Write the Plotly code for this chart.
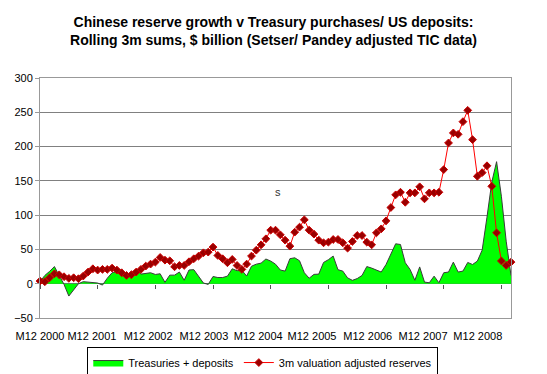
import plotly.graph_objects as go

# ---- data (rolling 3m sums, $ billion), monthly from M12 2000 ----
treasuries_deposits = [
    3, 12, 18, 25, 12, -1, -18, -9, 0, 3, 2, 1.5, 1, -2, 8, 16, 18, 16, 14, 16,
    21, 14, 14.5, 16, 13.5, 14.5, 2, 12.5, 12.5, 17, 5, 20, 20.5, 11, 1, -1, 10.5, 9, 9, 11,
    21.8, 19, 19.5, 11.2, 25.5, 28.5, 30, 36, 33, 28.5, 20, 18.4, 36.5, 37.8, 33.5, 16, 8, 13.6, 14, 31,
    35, 40.3, 20.4, 18.4, 8.5, 4.9, 7.5, 12, 25, 22.8, 19.6, 17, 28, 43.7, 58.2, 57.2, 30.6, 20.8, 5, 24.5,
    2.4, 1.4, 11, 1.4, 16, 17, 31.5, 17, 18.4, 31, 28, 33, 49, 97, 148, 178, 127.6, 62, 12,
]
valuation_adjusted_reserves = [
    3.9, 2.9, 8.7, 14.5, 13, 10.2, 7.8, 8.7, 7.3, 11.2, 17, 21.8, 19.9, 20.9, 20.9, 22.8, 19.9, 16, 12.1, 13.1,
    17, 20.9, 25.7, 28.6, 31.5, 38.3, 34.4, 33.4, 24.7, 26.6, 26.6, 32, 36.4, 40.3, 45.1, 46.1, 53.4, 41.2, 36.4, 30.6,
    35.4, 26.6, 20.9, 28.6, 40.3, 48.9, 56.7, 65.5, 78.1, 78.1, 71.3, 63.5, 54.8, 75.2, 82.5, 93.2, 78.1, 72.3, 63.5, 59.7,
    60.6, 64.5, 64.5, 59.7, 51.9, 61.6, 70.3, 70.3, 60.6, 56.7, 74.2, 80, 91.7, 111.1, 129.6, 133.4, 118.8, 132.5, 132.5, 141.3,
    123.8, 132.5, 132.5, 133.4, 166.4, 205.3, 219.9, 217.9, 236.3, 252.8, 210.1, 156.7, 162, 172, 142.1, 74.2, 33.2, 26.6, 31.5,
]
month_index = list(range(len(treasuries_deposits)))

x_tick_labels = ["M12 2000", "M12 2001", "M12 2002", "M12 2003", "M12 2004",
                 "M12 2005", "M12 2006", "M12 2007", "M12 2008"]
x_label_pos = [0, 10.8, 22.5, 34.1, 45.4, 56.6, 68.2, 79.7, 91.1]
x_tick_marks = [0, 12, 24, 36, 48, 60, 72, 84, 96]
y_ticks = [-50, 0, 50, 100, 150, 200, 250, 300]

FONT = "Liberation Sans, Arial, sans-serif"

fig = go.Figure()
fig.add_trace(go.Scatter(
    x=month_index, y=treasuries_deposits, name="Treasuries + deposits",
    mode="lines", fill="tozeroy", fillcolor="#00FF00",
    line=dict(color="#3a3a3a", width=1),
))
fig.add_trace(go.Scatter(
    x=month_index, y=valuation_adjusted_reserves, name="3m valuation adjusted reserves",
    mode="lines+markers", cliponaxis=False,
    line=dict(color="#FF0000", width=1),
    marker=dict(symbol="diamond", size=6, color="#990000",
                line=dict(color="#CC0000", width=1)),
))
# carrier for the category tick marks that sit on the zero line
fig.add_trace(go.Scatter(x=[0], y=[None], xaxis="x2", showlegend=False,
                         hoverinfo="skip", mode="lines"))

fig.add_annotation(x=49.6, y=133.4, text="s", showarrow=False,
                   font=dict(family=FONT, size=11, color="#333333"))

fig.update_layout(
    width=547, height=374,
    margin=dict(l=40, r=36, t=78, b=56, autoexpand=False),
    paper_bgcolor="white", plot_bgcolor="white",
    font=dict(family=FONT, size=11, color="black"),
    title=dict(
        text="<b>Chinese reserve growth v Treasury purchases/ US deposits:<br>"
             "Rolling 3m sums, $ billion (Setser/ Pandey adjusted TIC data)</b>",
        x=0.5, xanchor="center", y=1 - 27 / 374, yanchor="middle",
        font=dict(family=FONT, size=14, color="black"),
    ),
    showlegend=True,
    legend=dict(orientation="h", x=0.473, xanchor="center", y=-0.121, yanchor="top",
                bordercolor="black", borderwidth=1, bgcolor="white",
                font=dict(family=FONT, size=11, color="black"),
                itemwidth=30, tracegroupgap=0),
    xaxis=dict(range=[0, 98], tickvals=x_label_pos, ticktext=x_tick_labels,
               ticks="", showgrid=False, zeroline=False, automargin=False,
               showline=True, mirror=True, linecolor="#999999", linewidth=1,
               ticklabelstandoff=8),
    xaxis2=dict(overlaying="x", anchor="free", position=50 / 350, range=[0, 98],
                tickvals=x_tick_marks, ticks="outside", ticklen=4, tickcolor="#555555",
                showticklabels=False, showgrid=False, zeroline=False, showline=False,
                automargin=False),
    yaxis=dict(range=[-50, 300], tickvals=y_ticks, showgrid=True, gridcolor="#808080",
               gridwidth=1, zeroline=True, zerolinecolor="#6a6a7a", zerolinewidth=1,
               showline=True, mirror=True, linecolor="#999999", linewidth=1,
               ticks="outside", ticklen=4, tickcolor="#999999", automargin=False),
)

fig.write_html("out.html", config={"displayModeBar": False},
               post_script="document.body.style.margin='0';")
